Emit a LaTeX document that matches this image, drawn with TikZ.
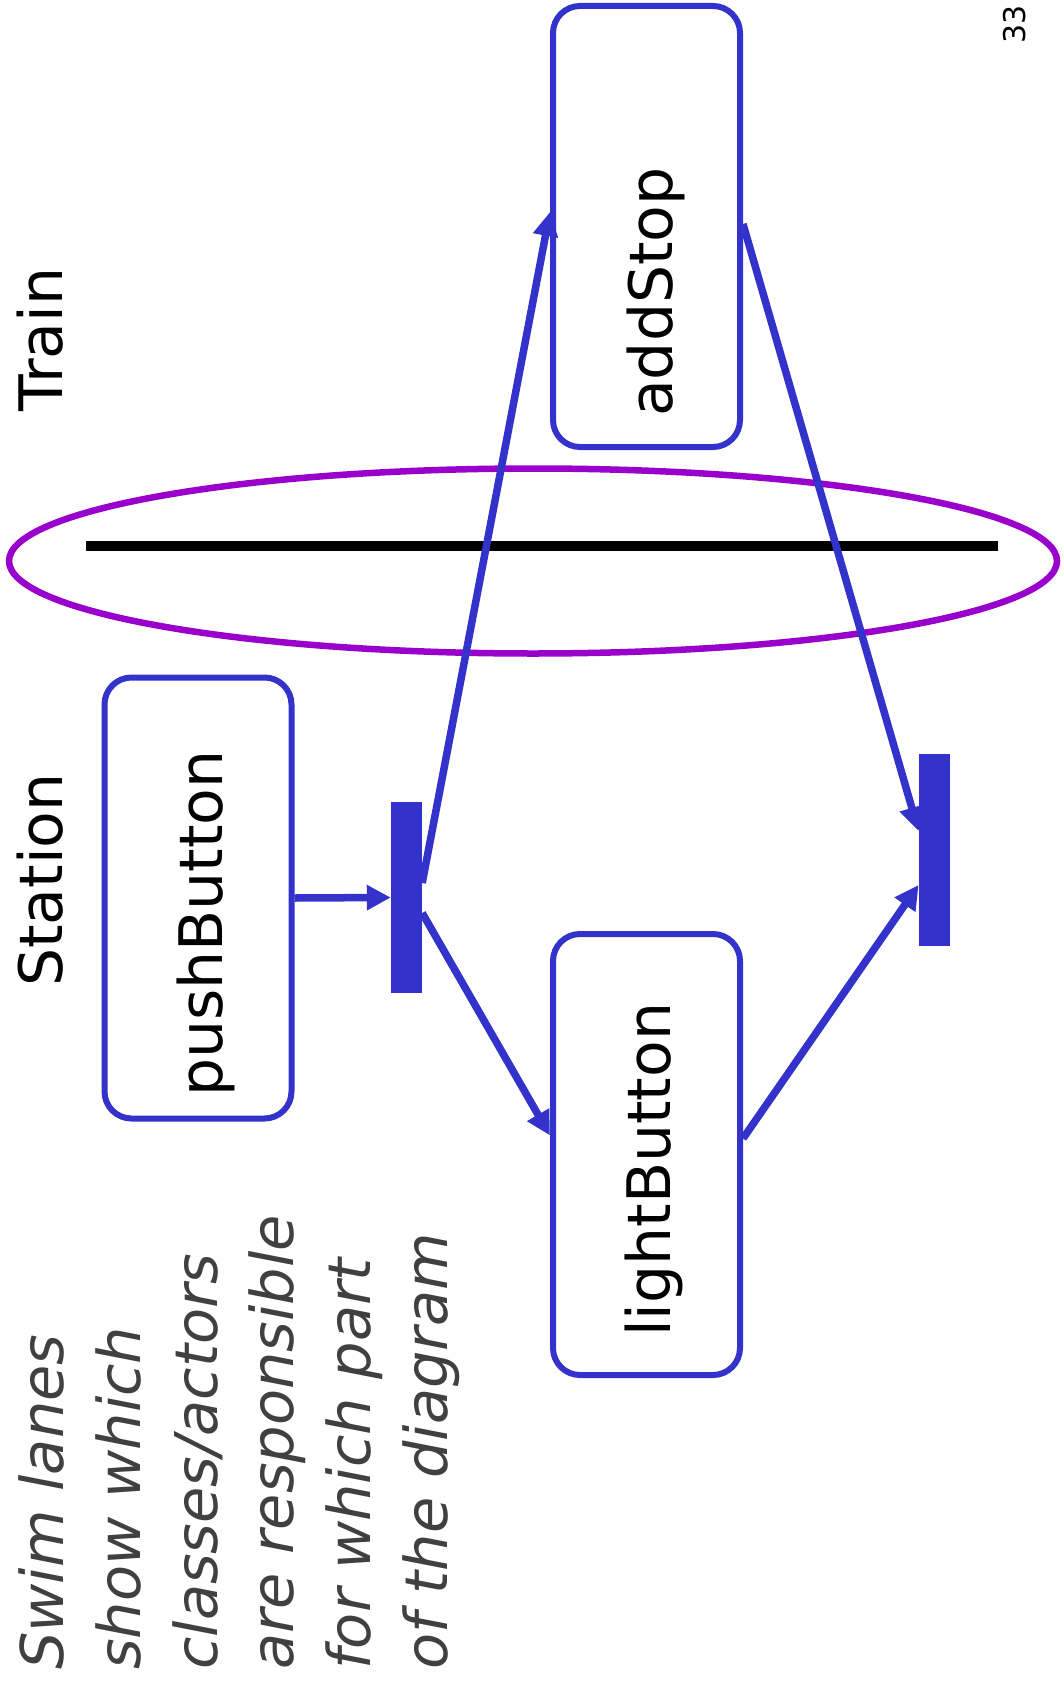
\documentclass[tikz,border=0pt]{standalone}
\usepackage{fontspec}
\setmainfont{DejaVu Sans}
\usetikzlibrary{arrows.meta,calc}
\definecolor{laneblue}{HTML}{3333CC}
\definecolor{lanepurple}{HTML}{9900CC}
\definecolor{notegray}{HTML}{404040}
\begin{document}
\begin{tikzpicture}[x=1pt,y=-1pt,
  actbox/.style={draw=laneblue, line width=6pt, rounded corners=27pt,
    minimum width=187pt, minimum height=441pt, inner sep=0pt},
  syncbar/.style={fill=laneblue, minimum width=31pt, minimum height=191pt, inner sep=0pt},
  flow/.style={draw=laneblue, line width=7.5pt, -{Triangle[length=24pt,width=24pt]}},
  bigtext/.style={rotate=90, anchor=base west, inner sep=0pt,
    font=\fontsize{60}{72}\selectfont},
  notetext/.style={rotate=90, anchor=base west, inner sep=0pt, text=notegray,
    font=\fontsize{59}{70}\selectfont\itshape},
  lanering/.style={draw=lanepurple, line width=6.5pt},
  laneline/.style={draw=black, line width=10pt}]
\fill[white] (0,0) rectangle (1064,1688);
\useasboundingbox (0,0) rectangle (1064,1688);

% swim lane separator
\draw[laneline] (86,546) -- (998,546);
\draw[lanering] (533,561) ellipse [x radius=524pt, y radius=92.5pt];

% lane headers
\node[bigtext] (train) at (62,412) {Train};
\node[bigtext] (station) at (62,987) {Station};

% activities
\node[actbox] (addStop) at (646.5,226.5) {};
\node[actbox] (lightButton) at (646.5,1154.5) {};
\node[actbox] (pushButton) at (198,898) {};
\node[bigtext] (addStopText) at (672,417) {addStop};
\node[bigtext] (lightButtonText) at (670,1337) {lightButton};
\node[bigtext] (pushButtonText) at (222,1097) {pushButton};

% fork / join bars
\node[syncbar] (fork) at (406.5,897.5) {};
\node[syncbar, minimum width=31.5pt, minimum height=192pt] (join) at (934.5,850) {};

% flows
\draw[flow] (pushButton.east) -- (fork.west);
\draw[flow] ([yshift=14.5pt]fork.east) -- ([yshift=14.5pt]addStop.west);
\draw[flow] ([yshift=-15.5pt]fork.east) -- ([yshift=19pt]lightButton.west);
\draw[flow] ([yshift=2.5pt]addStop.east) -- ([yshift=19pt]join.west);
\draw[flow] ([yshift=16pt]lightButton.east) -- ([yshift=-35pt]join.west);

% note
\node[notetext] (n1) at (63,1670) {Swim lanes};
\node[notetext] (n2) at (140,1670) {show which};
\node[notetext] (n3) at (217,1670) {classes/actors};
\node[notetext] (n4) at (293,1670) {are responsible};
\node[notetext] (n5) at (370,1670) {for which part};
\node[notetext] (n6) at (447,1670) {of the diagram};

% page number
\node[rotate=90, inner sep=0pt, font=\fontsize{30}{36}\selectfont] (pagenum) at (1015,24) {33};
\end{tikzpicture}
\end{document}
